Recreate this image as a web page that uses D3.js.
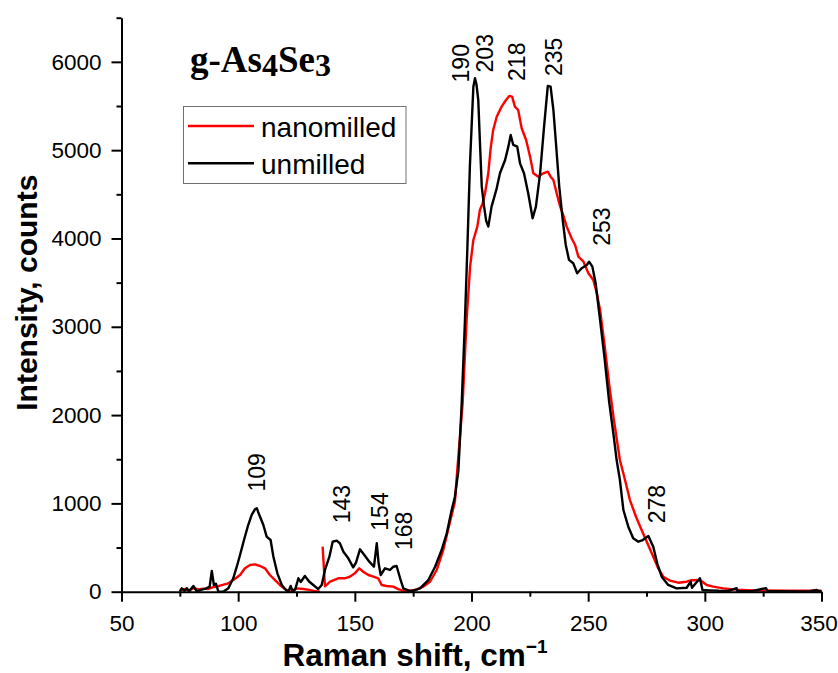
<!DOCTYPE html>
<html>
<head>
<meta charset="utf-8">
<script src="https://cdn.jsdelivr.net/npm/d3@7"></script>
<style>
  html, body { margin: 0; padding: 0; background: #fff; }
  svg { display: block; }
</style>
</head>
<body>
<svg id="chart" width="838" height="673"></svg>
<script>
// ---------------- DATA ----------------
const xTicks = [50, 100, 150, 200, 250, 300, 350];
const xMinorTicks = [75, 125, 175, 225, 275, 325];
const yTicks = [0, 1000, 2000, 3000, 4000, 5000, 6000];
const yMinorTicks = [500, 1500, 2500, 3500, 4500, 5500, 6500];

const seriesNames = ["nanomilled", "unmilled"];
const seriesColors = ["#ff0000", "#000000"];

// unmilled (black)
const unmilledShift = [75, 75.8, 77, 78, 79, 80.8, 82.3, 84, 86.5, 87.8, 88.7, 89.6, 90.5, 91.5, 93.6, 95.8, 97.9, 99.4, 100.8, 102.5, 104.3, 105.8, 107.2, 108, 108.6, 110.8, 112.2, 113.9, 115.1, 116.8, 118.7, 120.5, 121.5, 122.5, 123.4, 124.5, 125.8, 126.8, 128.6, 130.5, 132.2, 134.3, 135.8, 137.2, 139.1, 140.5, 142.2, 143.6, 145.1, 147.2, 149.3, 150.5, 152.2, 154.4, 156.2, 158.2, 159.4, 160.2, 161.1, 162.9, 165.1, 166.5, 167.9, 169.4, 170.8, 172.9, 175, 177.9, 181.5, 184.4, 187.2, 189.4, 191.5, 192.9, 194.4, 195.8, 197.2, 198.3, 199.3, 200.1, 200.8, 201.5, 202.1, 202.9, 203.6, 204.4, 205.4, 206.3, 207.2, 208.6, 210.8, 212.2, 214.4, 215.8, 216.8, 217.9, 219.6, 220.8, 222.5, 224.3, 226.2, 227.6, 229.4, 231.1, 232.7, 233.9, 235.1, 236.2, 237.6, 239.1, 240.4, 241.8, 243.6, 245.3, 247.2, 249.4, 250.4, 251.8, 253.2, 255.1, 257, 259, 261, 262.2, 263.6, 265.1, 267.2, 269.3, 271.5, 273.4, 275.8, 277.9, 279.6, 281.5, 284.3, 287.9, 292.2, 293.9, 294.5, 297.9, 299, 302, 306, 310, 313.6, 314, 320, 326.2, 327, 335, 340, 345, 348, 349, 350];
const unmilledCounts = [0, 38, 10, 40, 5, 65, 0, 20, 38, 60, 234, 76, 90, 0, 0, 38, 152, 283, 416, 586, 755, 869, 933, 945, 900, 755, 623, 586, 396, 208, 76, 20, 0, 65, 0, 30, 152, 110, 178, 113, 76, 30, 76, 246, 396, 566, 578, 548, 453, 378, 276, 330, 480, 404, 340, 283, 548, 321, 189, 265, 246, 283, 291, 152, 38, 15, 10, 38, 132, 283, 472, 661, 925, 1076, 1378, 2133, 3077, 3950, 4813, 5300, 5719, 5814, 5750, 5568, 5100, 4587, 4360, 4200, 4134, 4360, 4568, 4738, 4889, 5040, 5172, 5059, 5040, 4851, 4738, 4512, 4229, 4360, 4738, 5266, 5727, 5719, 5455, 5078, 4587, 4209, 3926, 3757, 3719, 3606, 3662, 3700, 3737, 3681, 3493, 3077, 2650, 2150, 1750, 1491, 1265, 925, 736, 605, 566, 585, 631, 510, 321, 170, 76, 38, 45, 113, 45, 152, 20, 15, 10, 8, 40, 5, 5, 40, 5, 5, 3, 5, 20, 5, 5];

// nanomilled (red); null marks the break in the recorded spectrum
const nanomilledShift = [75, 77, 79, 81, 83, 85, 87, 89, 90.8, 93, 95.8, 97.9, 100.8, 102.9, 105.1, 107.2, 108.2, 109.4, 111.5, 113.6, 115.8, 117.9, 120, 122.2, 125.1, 128, 130.5, 132.5, 135, 135.6, 136.2, 137.2, 139.4, 141, 142.9, 145.7, 147.9, 150, 151.9, 153.6, 155.8, 158, 160, 161.5, 163.6, 166.5, 168.6, 170.8, 173.5, 176.5, 179.4, 182.2, 185.1, 187.9, 190.8, 192.9, 193.9, 196.2, 197.9, 199.4, 200.8, 202.5, 203.6, 204.8, 205.8, 207.2, 208.2, 209.3, 210.8, 212.9, 214.8, 216.2, 217.4, 218.6, 220, 221.5, 223.4, 225.1, 226.5, 228.6, 230.8, 232.7, 233.9, 235.1, 236.5, 238, 239.3, 240.8, 242.9, 244.4, 245.8, 248, 250.1, 252.2, 253.7, 255.1, 257, 259, 261, 263.6, 265.8, 267.9, 270.5, 272.9, 275.1, 277.9, 280, 282.2, 285.1, 288.6, 292.2, 294.3, 297.9, 300.8, 303.6, 307.9, 313.6, 320.8, 335, 347, 350];
const nanomilledCounts = [20, 30, 15, 40, 25, 35, 30, 50, 57, 75, 95, 132, 189, 265, 302, 310, 300, 291, 265, 189, 132, 76, 30, 0, 38, 30, 20, 10, 0, null, 510, 60, 113, 130, 152, 152, 170, 208, 265, 226, 189, 170, 152, 76, 65, 57, 30, 10, 10, 27, 57, 113, 246, 472, 793, 1019, 1378, 2133, 3077, 3681, 3983, 4134, 4323, 4399, 4512, 4738, 5021, 5229, 5379, 5493, 5568, 5614, 5606, 5493, 5455, 5248, 5115, 4926, 4738, 4700, 4738, 4756, 4700, 4662, 4512, 4360, 4266, 4134, 4002, 3926, 3794, 3737, 3606, 3530, 3379, 3190, 2800, 2350, 1950, 1491, 1265, 1038, 849, 699, 566, 396, 265, 170, 125, 102, 113, 130, 132, 76, 57, 38, 23, 15, 10, 10, 10];

// peak annotations: label text, anchor shift (cm-1), anchor intensity
const peakLabels = ["109", "143", "154", "168", "190", "203", "218", "235", "253", "278"];
const peakShift = [111.5, 147.9, 164.4, 174.3, 198.9, 209.0, 222.9, 238.8, 259.4, 282.9];
const peakCounts = [1135, 775, 691, 472, 5767, 5880, 5784, 5840, 3918, 775];

// ---------------- CHART ----------------
const svg = d3.select("#chart");
const margin = { left: 121.5, top: 17.7, right: 16.5, bottom: 81.3 };
const W = 838, H = 673;

const x = d3.scaleLinear().domain([50, 350]).range([margin.left, W - margin.right]);
const y = d3.scaleLinear().domain([0, 6500]).range([H - margin.bottom, margin.top]);

const font = '"Liberation Sans", Arial, Helvetica, sans-serif';

// curves
const toPoints = (xs, ys) => xs.map((v, i) => ({ x: v, y: ys[i] }));
const line = d3.line()
  .defined(d => d.y !== null)
  .x(d => x(d.x))
  .y(d => y(d.y));

const series = [
  { name: seriesNames[0], color: seriesColors[0], pts: toPoints(nanomilledShift, nanomilledCounts) },
  { name: seriesNames[1], color: seriesColors[1], pts: toPoints(unmilledShift, unmilledCounts) }
];

svg.append("g").selectAll("path")
  .data(series)
  .join("path")
  .attr("d", d => line(d.pts))
  .attr("fill", "none")
  .attr("stroke", d => d.color)
  .attr("stroke-width", 2.4)
  .attr("stroke-linejoin", "round");

// axes
const xAxisG = svg.append("g")
  .attr("transform", `translate(0,${y(0)})`)
  .call(d3.axisBottom(x).tickValues(xTicks).tickSize(10).tickPadding(13).tickSizeOuter(0).tickFormat(d3.format("d")));
svg.append("g")
  .attr("transform", `translate(0,${y(0)})`)
  .call(d3.axisBottom(x).tickValues(xMinorTicks).tickSize(5).tickFormat("").tickSizeOuter(0))
  .call(g => g.select(".domain").remove());

svg.append("g")
  .attr("transform", `translate(${x(50)},0)`)
  .call(d3.axisLeft(y).tickValues(yTicks).tickSize(10).tickPadding(10).tickSizeOuter(0).tickFormat(d3.format("d")));
svg.append("g")
  .attr("transform", `translate(${x(50)},0)`)
  .call(d3.axisLeft(y).tickValues(yMinorTicks).tickSize(5).tickFormat("").tickSizeOuter(0))
  .call(g => g.select(".domain").remove());

svg.selectAll(".domain").attr("stroke", "#000").attr("stroke-width", 2);
svg.selectAll(".tick line").attr("stroke", "#000").attr("stroke-width", 2);
svg.selectAll(".tick text")
  .attr("font-family", font)
  .attr("font-size", 22.5)
  .attr("fill", "#000");
// keep the last x label inside the frame
xAxisG.selectAll(".tick text").filter(d => d === 350).attr("dx", -3);

// axis titles
svg.append("text")
  .attr("x", 415)
  .attr("y", 666)
  .attr("text-anchor", "middle")
  .attr("font-family", font)
  .attr("font-weight", "bold")
  .attr("font-size", 31.5)
  .attr("fill", "#000")
  .call(t => {
    t.append("tspan").text("Raman shift, cm");
    t.append("tspan").attr("font-size", 19).attr("dy", -13).text("\u22121");
  });

svg.append("text")
  .attr("transform", `translate(37,${(y(0) + y(6500)) / 2 - 12}) rotate(-90)`)
  .attr("text-anchor", "middle")
  .attr("font-family", font)
  .attr("font-weight", "bold")
  .attr("font-size", 30)
  .attr("fill", "#000")
  .text("Intensity, counts");

// sample title
svg.append("text")
  .attr("x", 190)
  .attr("y", 71.5)
  .attr("font-family", '"Liberation Serif", "Times New Roman", serif')
  .attr("font-weight", "bold")
  .attr("font-size", 37)
  .attr("fill", "#000")
  .call(t => {
    t.append("tspan").text("g-As");
    t.append("tspan").attr("font-size", 32).attr("dy", 4).text("4");
    t.append("tspan").attr("dy", -4).text("Se");
    t.append("tspan").attr("font-size", 32).attr("dy", 4).text("3");
  });

// legend
const lg = svg.append("g");
lg.append("rect")
  .attr("x", 183.5).attr("y", 106.5)
  .attr("width", 222.5).attr("height", 77)
  .attr("fill", "#fff")
  .attr("stroke", "#707070")
  .attr("stroke-width", 1);
series.forEach((s, i) => {
  const ly = 126 + i * 37.3;
  lg.append("line")
    .attr("x1", 188).attr("x2", 254)
    .attr("y1", ly).attr("y2", ly)
    .attr("stroke", s.color).attr("stroke-width", 2.4);
  lg.append("text")
    .attr("x", 261).attr("y", ly + 10.5)
    .attr("font-family", font)
    .attr("font-size", 28)
    .attr("fill", "#000")
    .text(s.name);
});

// peak labels
svg.append("g").selectAll("text")
  .data(peakLabels)
  .join("text")
  .attr("transform", (d, i) => `translate(${x(peakShift[i])},${y(peakCounts[i])}) rotate(-90)`)
  .attr("font-family", font)
  .attr("font-size", 23)
  .attr("fill", "#000")
  .text(d => d);
</script>
</body>
</html>
